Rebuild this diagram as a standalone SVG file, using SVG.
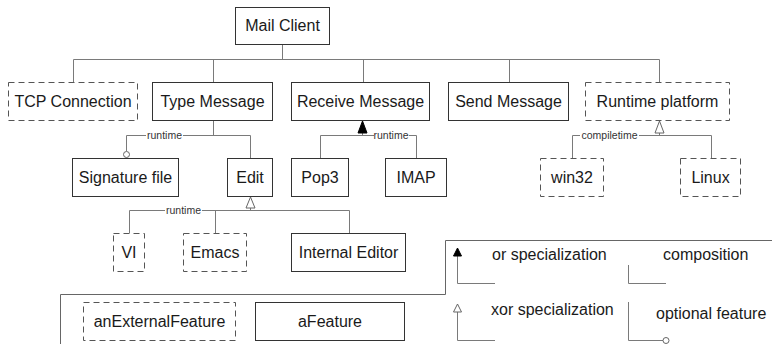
<svg xmlns="http://www.w3.org/2000/svg" width="772" height="344" viewBox="0 0 772 344">
<style>
  .box { fill: #fff; stroke: #333; stroke-width: 1; }
  .ext { fill: #fff; stroke: #555; stroke-width: 1; stroke-dasharray: 6 4; }
  .t { font-family: "Liberation Sans", Arial, sans-serif; font-size: 16px; fill: #1a1a1a; text-anchor: middle; }
  .tl { font-family: "Liberation Sans", Arial, sans-serif; font-size: 16px; fill: #1a1a1a; }
  .lbl { font-family: "Liberation Sans", Arial, sans-serif; font-size: 10.5px; fill: #333; text-anchor: middle; }
  .ln { fill: none; stroke: #7a7a7a; stroke-width: 1; }
  .fr { fill: none; stroke: #666; stroke-width: 1; }
  .filled { fill: #000; stroke: #000; stroke-width: 1; }
  .hollow { fill: #fff; stroke: #666; stroke-width: 1; }
  .bg { fill: #fff; }
</style>
<rect width="772" height="344" fill="#fff"/>

<g id="connectors">
  <!-- Mail Client children -->
  <path class="ln" d="M282.5 44 V59.5 M73.5 82 V59.5 H659.5 V82 M213.5 59.5 V82 M363.5 59.5 V82 M509.5 59.5 V82"/>
  <!-- Type Message -->
  <path class="ln" d="M213.5 120 V135.5 M126.5 151 V135.5 H250.5 V158"/>
  <rect class="bg" x="146" y="129" width="37" height="12"/>
  <text class="lbl" x="164.5" y="139">runtime</text>
  <circle class="hollow" cx="126.5" cy="154.5" r="3"/>
  <!-- Receive Message -->
  <path class="ln" d="M362.5 133 V135.5 M320.5 158 V135.5 H416.5 V158"/>
  <rect class="bg" x="374" y="129" width="35" height="12"/>
  <text class="lbl" x="391" y="139">runtime</text>
  <path class="filled" d="M362.5 121 L358 133 H367 Z"/>
  <!-- Runtime platform -->
  <path class="ln" d="M659.5 133 V135.5 M572.5 158 V135.5 H711.5 V158"/>
  <rect class="bg" x="580" y="129" width="59" height="12"/>
  <text class="lbl" x="609.5" y="139">compiletime</text>
  <path class="hollow" d="M659.5 121 L655 133 H664 Z"/>
  <!-- Edit -->
  <path class="ln" d="M250.5 208 V210.5 M129.5 233 V210.5 H349.5 V233 M215.5 210.5 V233"/>
  <rect class="bg" x="165" y="204" width="37" height="12"/>
  <text class="lbl" x="183.5" y="214">runtime</text>
  <path class="hollow" d="M250.5 197 L246 208 H255 Z"/>
</g>

<g id="mail-client"><rect class="box" x="235.5" y="7.5" width="94" height="37"/><text class="t" x="282.5" y="31">Mail Client</text></g>
<g id="tcp-connection"><rect class="ext" x="8.5" y="82.5" width="129" height="38"/><text class="t" x="73" y="107">TCP Connection</text></g>
<g id="type-message"><rect class="box" x="152.5" y="82.5" width="120" height="38"/><text class="t" x="212.5" y="107">Type Message</text></g>
<g id="receive-message"><rect class="box" x="291.5" y="82.5" width="138" height="38"/><text class="t" x="360.5" y="107">Receive Message</text></g>
<g id="send-message"><rect class="box" x="448.5" y="82.5" width="120" height="38"/><text class="t" x="508.5" y="107">Send Message</text></g>
<g id="runtime-platform"><rect class="ext" x="585.5" y="82.5" width="144" height="38"/><text class="t" x="657.5" y="107">Runtime platform</text></g>

<g id="signature-file"><rect class="box" x="72.5" y="158.5" width="106" height="38"/><text class="t" x="125.5" y="183">Signature file</text></g>
<g id="edit"><rect class="box" x="227.5" y="158.5" width="45" height="38"/><text class="t" x="250" y="183">Edit</text></g>
<g id="pop3"><rect class="box" x="291.5" y="158.5" width="57" height="38"/><text class="t" x="320" y="183">Pop3</text></g>
<g id="imap"><rect class="box" x="385.5" y="158.5" width="61" height="38"/><text class="t" x="416" y="183">IMAP</text></g>
<g id="win32"><rect class="ext" x="540.5" y="158.5" width="63" height="38"/><text class="t" x="572" y="183">win32</text></g>
<g id="linux"><rect class="ext" x="680.5" y="158.5" width="60" height="38"/><text class="t" x="710.5" y="183">Linux</text></g>

<g id="vi"><rect class="ext" x="113.5" y="233.5" width="31" height="38"/><text class="t" x="129" y="258">VI</text></g>
<g id="emacs"><rect class="ext" x="183.5" y="233.5" width="63" height="38"/><text class="t" x="215" y="258">Emacs</text></g>
<g id="internal-editor"><rect class="box" x="291.5" y="233.5" width="114" height="38"/><text class="t" x="348.5" y="258">Internal Editor</text></g>

<g id="legend">
  <path class="fr" d="M772 240.5 H445.5 V294.5 H60.5 V344"/>
  <g id="legend-external"><rect class="ext" x="83.5" y="302.5" width="152" height="38"/><text class="t" x="159.5" y="327">anExternalFeature</text></g>
  <g id="legend-feature"><rect class="box" x="255.5" y="302.5" width="149" height="38"/><text class="t" x="330" y="327">aFeature</text></g>
  <path class="ln" d="M457.5 256 V283.5 H495"/>
  <path class="filled" d="M457.5 248 L453.5 256 H461.5 Z"/>
  <text class="tl" x="492" y="260">or specialization</text>
  <path class="ln" d="M628.5 265 V283.5 H666"/>
  <text class="tl" x="663" y="260">composition</text>
  <path class="ln" d="M457.5 312 V340.5 H495"/>
  <path class="hollow" d="M457.5 304 L453.5 312 H461.5 Z"/>
  <text class="tl" x="491" y="315">xor specialization</text>
  <path class="ln" d="M628.5 302 V340.5 H663"/>
  <circle class="hollow" cx="666" cy="340.5" r="3"/>
  <text class="tl" x="656" y="319">optional feature</text>
</g>
</svg>
